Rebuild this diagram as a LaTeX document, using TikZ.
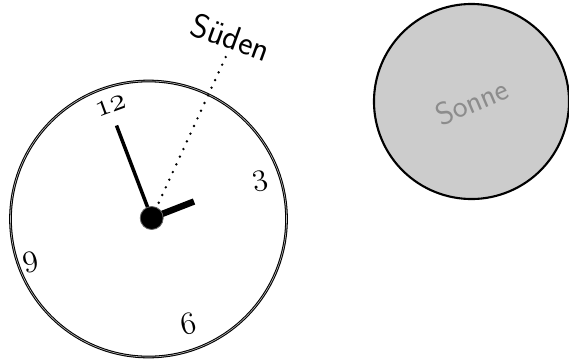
\RequirePackage{fix-cm}
\documentclass[tikz,border=0pt]{standalone}
\newcommand{\clocknum}[1]{{\usefont{OML}{cmm}{m}{it}#1}}
\begin{document}
\begin{tikzpicture}[x=0.03cm,y=-0.03cm,
  num/.style={font=\fontsize{27}{30}\selectfont, inner sep=0pt},
  hand/.style={line cap=butt},
  rim/.style={circle, draw=black, double=black!25, line width=0.9pt, double distance=0.5pt, minimum size=8.28cm, inner sep=0pt},
  sunstyle/.style={circle, draw, line width=1.8pt, fill=black!20, minimum size=5.85cm, inner sep=0pt, rotate=23, text=black!45, font=\sffamily\fontsize{27}{30}\selectfont}
]
\useasboundingbox (0,0) rectangle (569,360);
\coordinate (c) at (151.7,218);
\node[rim] (clock) at (148.5,219) {};
\node[sunstyle] (sun) at (471.5,101.5) {Sonne};
\node[num, rotate=20] (n12) at (110.5,106) {\clocknum{12}};
\node[num, rotate=12] (n3) at (260,181) {\clocknum{3}};
\node[num, rotate=12] (n6) at (188,324) {\clocknum{6}};
\node[num, rotate=12] (n9) at (30.5,262) {\clocknum{9}};
\coordinate (mh) at (116.5,125.5);
\coordinate (hh) at (194,201.5);
\coordinate (south) at (228,52);
\node[font=\sffamily\fontsize{29}{32}\selectfont, rotate=-20, inner sep=0pt] (sl) at (231,37) {Süden};
\draw[line width=2.3pt, dash pattern=on 0pt off 7.2pt, line cap=round] (c) -- (south);
\draw[hand, line width=3pt] (c) -- (mh);
\draw[hand, line width=5.5pt] (c) -- (hh);
\fill[black, draw=black!60, line width=0.7pt] (c) circle[radius=11.5];
\end{tikzpicture}
\end{document}
